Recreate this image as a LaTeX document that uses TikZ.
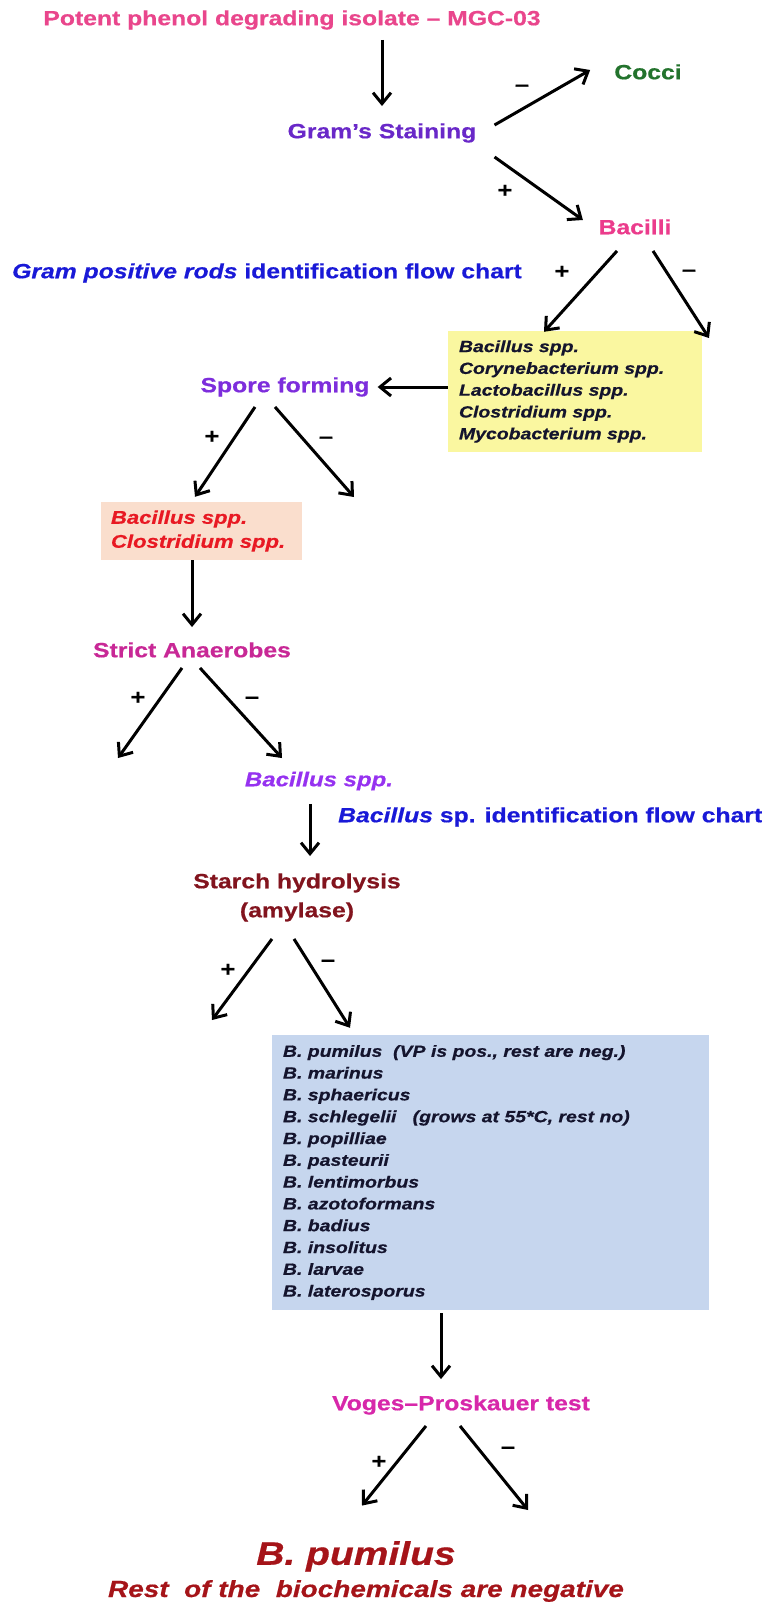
\documentclass[tikz,border=0pt]{standalone}
\usepackage{fontspec}
\setmainfont{Liberation Sans}[FakeStretch=1.2,BoldFeatures={FakeBold=0.6},BoldItalicFeatures={FakeBold=0.6}]
\usetikzlibrary{arrows.meta}

\definecolor{titlepink}{RGB}{233,70,140}
\definecolor{gramviolet}{RGB}{105,40,200}
\definecolor{coccigreen}{RGB}{35,115,45}
\definecolor{bacpink}{RGB}{235,60,140}
\definecolor{chartblue}{RGB}{25,25,215}
\definecolor{sporeviolet}{RGB}{125,45,220}
\definecolor{yellowbox}{RGB}{250,247,160}
\definecolor{peachbox}{RGB}{250,222,205}
\definecolor{peachred}{RGB}{232,25,35}
\definecolor{strictmag}{RGB}{200,40,150}
\definecolor{bacviolet}{RGB}{150,50,240}
\definecolor{starchred}{RGB}{130,20,30}
\definecolor{bluebox}{RGB}{198,214,238}
\definecolor{listink}{RGB}{20,20,45}
\definecolor{vpmag}{RGB}{215,40,170}
\definecolor{resred}{RGB}{165,20,25}

\begin{document}
\begin{tikzpicture}[x=1pt,y=-1pt,
    lbl/.style={inner sep=0pt,text height=15pt,text depth=4.5pt,font=\fontsize{20.6}{24}\selectfont\bfseries},
    sgn/.style={inner sep=0pt,font=\fontsize{21}{24}\selectfont\bfseries},
    lst/.style={inner xsep=11pt,inner ysep=0pt,align=left,text=listink,font=\fontsize{16.2}{21.8}\selectfont\bfseries\itshape},
    arr/.style={-{Straight Barb[length=11pt,width=18pt]},line width=3pt}]
    \useasboundingbox (0,0) rectangle (774,1608);

    % upper part
    \node[lbl,text=titlepink] (title) at (292,20) {Potent phenol degrading isolate – MGC-03};
    \node[lbl,text=gramviolet] (gram) at (382,133) {Gram’s Staining};
    \node[lbl,text=coccigreen] (cocci) at (648,74) {Cocci};
    \node[lbl,text=bacpink] (bacilli) at (635,229) {Bacilli};
    \node[lbl,anchor=west,text=chartblue] (gprods) at (12,273) {\textit{Gram positive rods} identification flow chart};
    \node[lst,fill=yellowbox,minimum width=254pt,minimum height=121pt,text width=232pt] (ybox) at (575,391.5)
        {Bacillus spp.\\Corynebacterium spp.\\Lactobacillus spp.\\Clostridium spp.\\Mycobacterium spp.};
    \node[lbl,text=sporeviolet] (spore) at (285,387) {Spore forming};
    \node[inner xsep=10pt,inner ysep=0pt,align=left,fill=peachbox,text=peachred,minimum width=201pt,minimum height=58pt,text width=181pt,
        font=\fontsize{18.4}{24}\selectfont\bfseries\itshape] (peach) at (201.5,531) {Bacillus spp.\\Clostridium spp.};
    \node[lbl,text=strictmag] (strict) at (192,652) {Strict Anaerobes};
    \node[lbl,text=bacviolet,font=\fontsize{20}{24}\selectfont\bfseries\itshape] (bspp) at (319,781) {Bacillus spp.};
    \node[lbl,anchor=west,text=chartblue] (bchart) at (338,817) {\textit{Bacillus} sp. identification flow chart};

    % lower part
    \node[lbl,text=starchred] (starch) at (297,883) {Starch hydrolysis};
    \node[lbl,text=starchred] (amyl) at (297,912) {(amylase)};
    \node[lst,fill=bluebox,minimum width=437pt,minimum height=275pt,text width=415pt] (bbox) at (490.5,1172.5)
        {B. pumilus\ \ (VP is pos., rest are neg.)\\B. marinus\\B. sphaericus\\B. schlegelii\ \ \ (grows at 55*C, rest no)\\
         B. popilliae\\B. pasteurii\\B. lentimorbus\\B. azotoformans\\B. badius\\B. insolitus\\B. larvae\\B. laterosporus};
    \node[lbl,text=vpmag] (vp) at (461,1405) {Voges–Proskauer test};
    \node[inner sep=0pt,text height=24pt,text depth=6.5pt,text=resred,font=\fontsize{32.5}{36}\selectfont\bfseries\itshape] (pum) at (356,1556) {B. pumilus};
    \node[inner sep=0pt,text height=17pt,text depth=5pt,text=resred,font=\fontsize{23.3}{27}\selectfont\bfseries\itshape] (rest) at (366,1591)
        {Rest\ \ of the\ \ biochemicals are negative};

    % loose ends
    \coordinate (bneg) at (709,338);
    \coordinate (sneg) at (354,497);
    \coordinate (apos) at (118,758);
    \coordinate (hpos) at (212,1020);
    \coordinate (vneg) at (528,1510);

    % signs
    \foreach \nm/\px/\py/\s in {sa/522/88/–,sb/505/191/+,sc/562/272/+,sd/689/273/–,se/212/437/+,sf/326/440/–,
        sg/138/698/+,sh/252/700/–,si/228/970/+,sj/328/963/–,sk/379/1462/+,sl/508/1450/–}
        \node[sgn] (\nm) at (\px,\py) {\s};

    % arrows
    \draw[arr,shorten <=10pt,shorten >=17pt] (title.south -| gram.north) -- (gram.north);
    \draw[arr] ([shift={(18,-8)}]gram.east) -- ([shift={(-24,-4)}]cocci.west);
    \draw[arr] ([shift={(18,24)}]gram.east) -- ([shift={(-15.5,-9)}]bacilli.west);
    \draw[arr] ([shift={(-18,12)}]bacilli.south) -- ([shift={(-31,1)}]ybox.north);
    \draw[arr] ([shift={(18,12)}]bacilli.south) -- (bneg);
    \draw[arr,shorten >=4pt] (ybox.west |- spore.east) -- ([shift={(4,0)}]spore.east);
    \draw[arr] ([shift={(-30,10)}]spore.south) -- ([shift={(-6.5,-5)}]peach.north);
    \draw[arr] ([shift={(-10,10)}]spore.south) -- (sneg);
    \draw[arr,shorten >=15pt] (peach.south -| strict.north) -- (strict.north);
    \draw[arr] ([shift={(-10,6)}]strict.south) -- (apos);
    \draw[arr] ([shift={(8,6)}]strict.south) -- ([shift={(-37,-13)}]bspp.north);
    \draw[arr] ([shift={(-9,13)}]bspp.south) -- ([shift={(13,-17)}]starch.north);
    \draw[arr] ([shift={(-25,17)}]amyl.south) -- (hpos);
    \draw[arr] ([shift={(-3,17)}]amyl.south) -- ([shift={(-140.5,-7)}]bbox.north);
    \draw[arr] ([shift={(-49.5,3)}]bbox.south) -- ([shift={(-20,-16)}]vp.north);
    \draw[arr] ([shift={(-35,11)}]vp.south) -- ([shift={(6,-35)}]pum.north);
    \draw[arr] ([shift={(-1,11)}]vp.south) -- (vneg);
\end{tikzpicture}
\end{document}
